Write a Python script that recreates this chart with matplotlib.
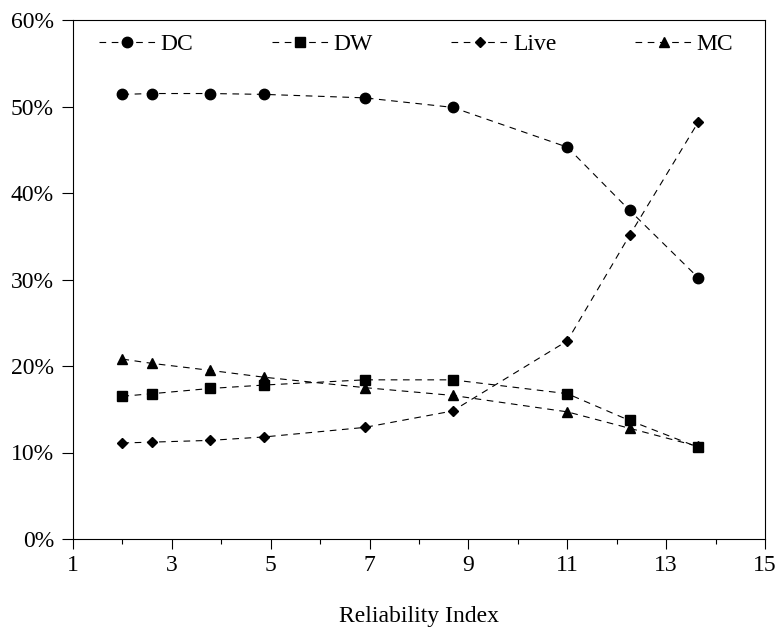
import matplotlib
matplotlib.use("Agg")
import matplotlib.pyplot as plt
from matplotlib.ticker import FuncFormatter, MultipleLocator

reliability = [2.0, 2.6, 3.77, 4.87, 6.9, 8.68, 11.0, 12.26, 13.65]
dc = [51.4, 51.5, 51.5, 51.4, 51.0, 49.9, 45.3, 38.0, 30.2]
dw = [16.5, 16.8, 17.4, 17.8, 18.4, 18.4, 16.8, 13.7, 10.6]
live = [11.1, 11.2, 11.4, 11.8, 12.9, 14.8, 22.9, 35.1, 48.2]
mc = [20.8, 20.3, 19.5, 18.7, 17.5, 16.6, 14.7, 12.8, 10.7]

plt.rcParams['font.family'] = ['Liberation Serif', 'DejaVu Serif']
plt.rcParams['font.size'] = 17

fig = plt.figure(figsize=(7.79, 6.3), dpi=100)
ax = fig.add_axes([73 / 779, 91 / 630, 692 / 779, 519 / 630])

style = dict(color='black', linewidth=0.8, linestyle=(0, (6, 5)))
ax.plot(reliability, dc, marker='o', markersize=7.5, label='DC', **style)
ax.plot(reliability, dw, marker='s', markersize=7, label='DW', **style)
ax.plot(reliability, live, marker='D', markersize=5.5, label='Live', **style)
ax.plot(reliability, mc, marker='^', markersize=7.5, label='MC', **style)

ax.set_xlim(1, 15)
ax.set_ylim(0, 60)
ax.set_xticks(range(1, 16, 2))
ax.set_xticks(range(2, 15, 2), minor=True)
ax.yaxis.set_major_locator(MultipleLocator(10))
ax.yaxis.set_major_formatter(FuncFormatter(lambda v, p: f"{v:.0f}%"))

ax.tick_params(axis='x', which='major', direction='out', length=7.2, width=0.8, pad=4, labelsize=17)
ax.tick_params(axis='x', which='minor', direction='out', length=3.6, width=0.8)
ax.tick_params(axis='y', which='major', direction='out', length=7.7, width=0.8, pad=6, labelsize=17)
for s in ax.spines.values():
    s.set_linewidth(0.8)

ax.set_xlabel('Reliability Index', fontsize=17, labelpad=22)

ax.legend(loc='upper left', bbox_to_anchor=(0.013, 1.005), ncol=4, frameon=False,
          handlelength=2.4, handletextpad=0.2, columnspacing=3.35, fontsize=17,
          borderaxespad=0.3)

fig.savefig('out.png', dpi=100)
